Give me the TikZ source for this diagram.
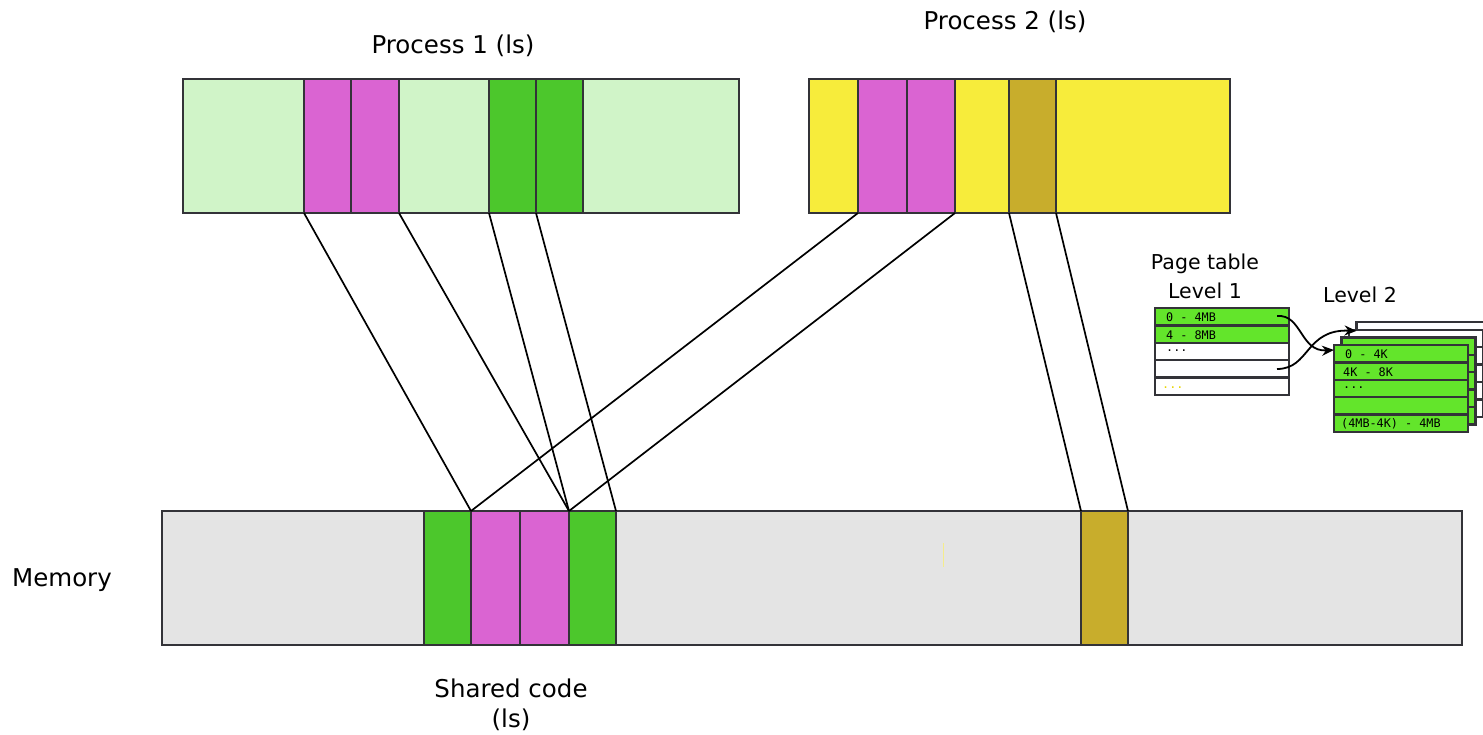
\documentclass[tikz,border=0pt]{standalone}
\usepackage{fontspec}
\setmainfont{DejaVu Sans}
\newfontfamily\monof{DejaVu Sans Mono}
\usetikzlibrary{arrows.meta}
\definecolor{lgreen}{HTML}{D0F4C8}
\definecolor{mpink}{HTML}{DA64D2}
\definecolor{mgreen}{HTML}{4CC72C}
\definecolor{myellow}{HTML}{F7EC3B}
\definecolor{molive}{HTML}{C8AD2C}
\definecolor{mgray}{HTML}{E4E4E4}
\definecolor{bord}{HTML}{333338}
\definecolor{tgreen}{HTML}{63E52B}
\definecolor{dotyel}{HTML}{E8D400}
\begin{document}
\begin{tikzpicture}[x=1pt,y=-1pt,
  cell/.style={draw=bord, line width=2.7pt, inner sep=0pt, outer sep=0pt, minimum height=134pt},
  conn/.style={draw=black, line width=1.7pt},
  lab/.style={font=\fontsize{24.5}{30}\selectfont, inner sep=0pt, align=center},
  slab/.style={font=\fontsize{20.5}{26}\selectfont, inner sep=0pt, align=center},
  trow/.style={draw=bord, line width=2.5pt, inner sep=0pt, outer sep=0pt, minimum width=134pt, minimum height=17.4pt},
  ttxt/.style={font=\monof\fontsize{11.8}{13}\selectfont, inner sep=0pt, anchor=west},
  parr/.style={draw=black, line width=1.8pt, -{Stealth[length=12pt,width=10pt]}}]
\path[use as bounding box] (0,0) rectangle (1483,735);

% Process 1
\node[cell, fill=lgreen, minimum width=556pt] (p1) at (461,146) {};
\node[cell, fill=mpink, minimum width=47pt] (p1a) at (327.5,146) {};
\node[cell, fill=mpink, minimum width=48pt] (p1b) at (375,146) {};
\node[cell, fill=mgreen, minimum width=47pt] (p1c) at (512.5,146) {};
\node[cell, fill=mgreen, minimum width=47pt] (p1d) at (559.5,146) {};
\node[lab] (p1l) at (453,46) {Process 1 (ls)};

% Process 2
\node[cell, fill=myellow, minimum width=421pt] (p2) at (1019.5,146) {};
\node[cell, fill=mpink, minimum width=49pt] (p2a) at (882.5,146) {};
\node[cell, fill=mpink, minimum width=48pt] (p2b) at (931,146) {};
\node[cell, fill=molive, minimum width=47pt] (p2o) at (1032.5,146) {};
\node[lab] (p2l) at (1005,22) {Process 2 (ls)};

% Memory
\node[cell, fill=mgray, minimum width=1300pt] (mem) at (812,578) {};
\node[cell, fill=mgreen, minimum width=47pt] (mg1) at (447.5,578) {};
\node[cell, fill=mpink, minimum width=49pt] (mp1) at (495.5,578) {};
\node[cell, fill=mpink, minimum width=49pt] (mp2) at (544.5,578) {};
\node[cell, fill=mgreen, minimum width=47pt] (mg2) at (592.5,578) {};
\node[cell, fill=molive, minimum width=47pt] (mo) at (1104.5,578) {};
\draw[dotyel!45, line width=1pt] (943,543) -- (943,567);
\node[lab] (meml) at (62,580) {Memory};
\node[lab] (shl) at (511,705) {Shared code\\(ls)};

% connectors
\draw[conn] (p1a.south west) -- (mp1.north west);
\draw[conn] (p1b.south east) -- (mp2.north east);
\draw[conn] (p1c.south west) -- (mg2.north west);
\draw[conn] (p1c.south east) -- (mg2.north east);
\draw[conn] (p2a.south west) -- (mp1.north west);
\draw[conn] (p2b.south east) -- (mp2.north east);
\draw[conn] (p2o.south west) -- (mo.north west);
\draw[conn] (p2o.south east) -- (mo.north east);

% Page table level 1
\node[slab] (ptl) at (1205,264) {Page table};
\node[slab] (l1l) at (1205,291) {Level 1};
\node[slab] (l2l) at (1360,295) {Level 2};
\node[trow, fill=tgreen] (r1) at (1222,316.7) {};
\node[trow, fill=tgreen] (r2) at (1222,334.1) {};
\node[trow, fill=white] (r3) at (1222,351.5) {};
\node[trow, fill=white] (r4) at (1222,368.9) {};
\node[trow, fill=white] (r5) at (1222,386.3) {};
\node[ttxt] (t1) at (1166,317.5) {0 - 4MB};
\node[ttxt] (t2) at (1166,334.9) {4 - 8MB};
\node[ttxt] (t3) at (1166,351) {...};
\node[ttxt, text=dotyel] (t5) at (1162,388) {...};

% Level 2 stacked tables (back to front)
\foreach \k/\c in {3/white,2/white,1/tgreen}{
  \foreach \r in {0,...,4}{
    \node[trow, fill=\c] (b\k r\r) at ({1401+7.5*\k},{353.7+17.4*\r-7.6*\k}) {};
  }
}
\node[trow, fill=tgreen] (f0) at (1401,353.7) {};
\node[trow, fill=tgreen] (f1) at (1401,371.1) {};
\node[trow, fill=tgreen] (f2) at (1401,388.5) {};
\node[trow, fill=tgreen] (f3) at (1401,405.9) {};
\node[trow, fill=tgreen] (f4) at (1401,423.3) {};
\node[ttxt] (u0) at (1345,354.5) {0 - 4K};
\node[ttxt] (u1) at (1343,371.9) {4K - 8K};
\node[ttxt] (u2) at (1343,388) {...};
\node[ttxt] (u4) at (1341,424.1) {(4MB-4K) - 4MB};

% arrows
\coordinate (a1s) at (1277,316);
\coordinate (a2s) at (1277,369);
\draw[parr] (a1s) .. controls (1302,314) and (1300,352) .. (f0.north west |- 0,350);
\draw[parr] (a2s) .. controls (1310,369) and (1305,329) .. (b3r0.west);
\end{tikzpicture}
\end{document}
